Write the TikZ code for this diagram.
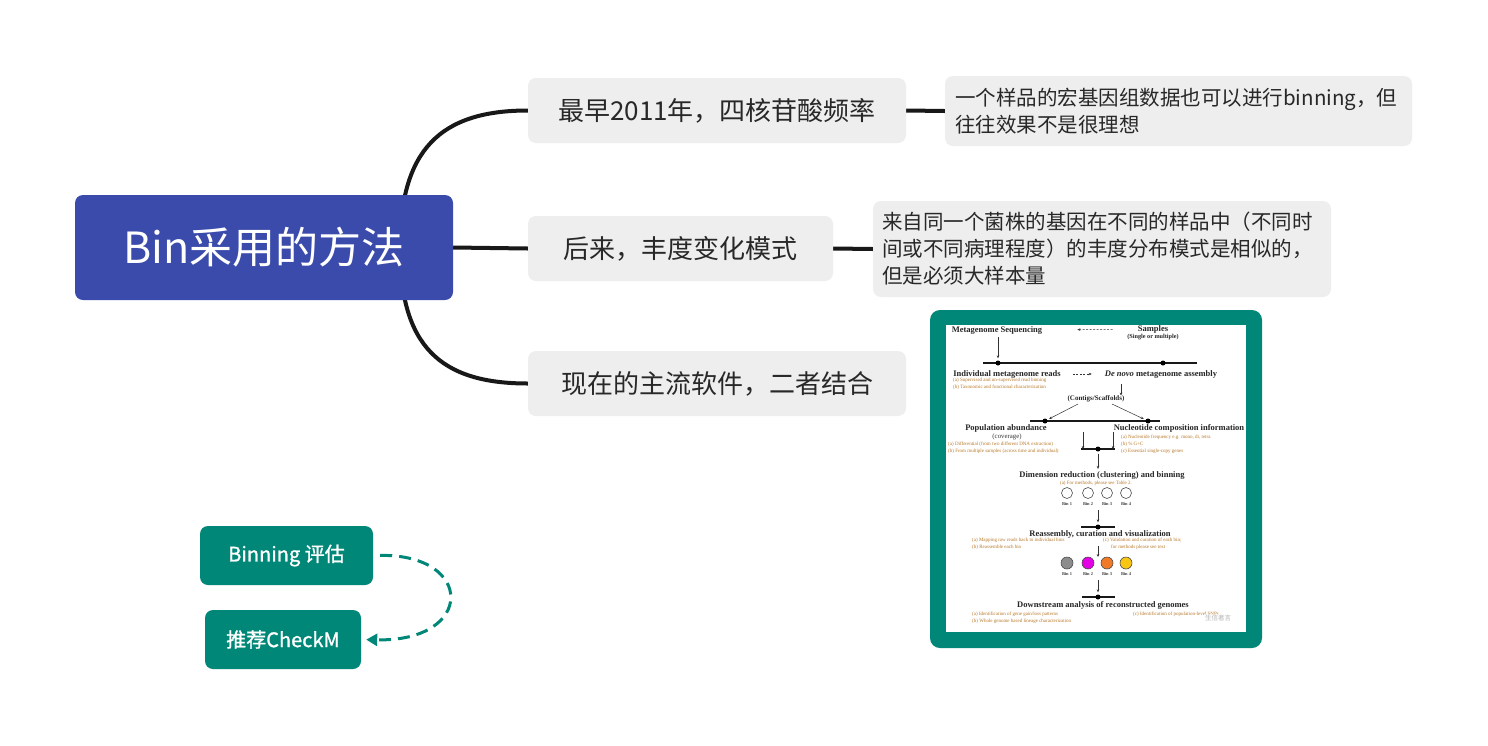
\documentclass[tikz,border=0pt]{standalone}
\usepackage{fontspec}
\setmainfont{Noto Sans CJK SC}
\newfontfamily\figfont{Liberation Serif}
\usetikzlibrary{arrows.meta}
\definecolor{rootblue}{RGB}{59,75,171}
\definecolor{boxgray}{RGB}{238,238,238}
\definecolor{mmteal}{RGB}{0,135,120}
\definecolor{txt}{RGB}{40,40,40}
\definecolor{orng}{RGB}{185,120,40}
\definecolor{conncol}{RGB}{24,24,24}
\definecolor{binmag}{RGB}{228,0,228}
\definecolor{binorg}{RGB}{240,122,40}
\definecolor{bingold}{RGB}{250,198,20}
\definecolor{bingray}{RGB}{140,140,140}
\pgfdeclarelayer{bg}
\pgfsetlayers{bg,main}
\tikzset{
  rootbox/.style={fill=rootblue, rounded corners=8pt, minimum width=378pt, minimum height=105pt, text=white, font=\fontsize{43}{50}\selectfont, inner sep=0pt},
  branchbox/.style={fill=boxgray, rounded corners=8pt, minimum height=65pt, text=txt, font=\fontsize{26}{30}\selectfont, inner sep=0pt},
  notebox/.style={fill=boxgray, rounded corners=8pt, inner sep=0pt},
  notetext/.style={text=txt, font=\fontsize{20.5}{27}\selectfont, align=left, inner sep=0pt, anchor=west},
  conn/.style={draw=conncol, line width=4pt},
  tealbox/.style={fill=mmteal, rounded corners=8pt, minimum height=59pt, text=white, font=\addfontfeatures{FakeBold=1.2}\fontsize{20}{24}\selectfont, inner sep=0pt},
  dasharrow/.style={draw=mmteal, line width=3pt, dash pattern=on 12pt off 7pt, -{Triangle[length=11pt,width=12pt]}},
  fb/.style={font=\figfont\bfseries\fontsize{8.5}{9}\selectfont, text=black!85, inner sep=0pt},
  fbs/.style={font=\figfont\bfseries\fontsize{6.2}{7}\selectfont, text=black!85, inner sep=0pt},
  fbc/.style={font=\figfont\bfseries\fontsize{7}{8}\selectfont, text=black!85, inner sep=0pt},
  fr/.style={font=\figfont\fontsize{6.8}{7}\selectfont, text=black!80, inner sep=0pt},
  fo/.style={font=\figfont\fontsize{5}{6.8}\selectfont, text=orng, inner sep=0pt, align=left},
  fbin/.style={font=\figfont\bfseries\fontsize{4.4}{5}\selectfont, text=black!75, inner sep=0pt},
  farr/.style={draw=black!80, line width=0.5pt, -{Stealth[length=3pt,width=2.6pt]}},
  fdash/.style={draw=black!80, line width=0.5pt, dash pattern=on 2pt off 1.5pt, -{Stealth[length=3pt,width=2.6pt]}},
  fbar/.style={draw=black!90, line width=2.2pt},
  fdot/.style={fill=black, circle, inner sep=0pt, minimum size=5pt},
  opencirc/.style={draw=black!70, line width=0.6pt, fill=white, circle, inner sep=0pt, minimum size=11pt},
  fillcirc/.style={draw=black!70, line width=0.6pt, circle, inner sep=0pt, minimum size=12pt},
}
\begin{document}
\begin{tikzpicture}[x=1pt,y=-1pt]
\useasboundingbox (0,0) rectangle (1488,745);

% mind map nodes
\node[rootbox] (root) at (264,247.5) {Bin采用的方法};
\node[branchbox, minimum width=378pt] (b1) at (717,110.5) {最早2011年，四核苷酸频率};
\node[branchbox, minimum width=305pt] (b2) at (680.5,248.5) {后来，丰度变化模式};
\node[branchbox, minimum width=378pt] (b3) at (717,383.5) {现在的主流软件，二者结合};

\node[notebox, minimum width=467pt, minimum height=70pt] (n1) at (1178.5,111) {};
\node[notetext] (n1t) at (955,111.5) {一个样品的宏基因组数据也可以进行binning，但\\往往效果不是很理想};
\node[notebox, minimum width=458pt, minimum height=96pt] (n2) at (1102,249) {};
\node[notetext] (n2t) at (882,249) {来自同一个菌株的基因在不同的样品中（不同时\\间或不同病理程度）的丰度分布模式是相似的，\\但是必须大样本量};

\coordinate (rc) at (400,248);
\begin{pgfonlayer}{bg}
\fill[white] (0,0) rectangle (1488,745);
\draw[conn] (rc) .. controls (400,150) and (440,110.5) .. (b1.west);
\draw[conn] (rc) .. controls (400,346) and (440,383.5) .. (b3.west);
\draw[conn] (root.east) -- (b2.west);
\draw[conn] (b1.east) -- (n1.west);
\draw[conn] (b2.east) -- (n2.west);
\end{pgfonlayer}

% evaluation boxes
\node[tealbox, minimum width=173pt] (bin) at (286.5,555.5) {Binning 评估};
\node[tealbox, minimum width=156pt] (chk) at (283,639.5) {推荐CheckM};
\draw[dasharrow, shorten <=7pt, shorten >=5pt] (bin.east) .. controls (475,554) and (475,642) .. (chk.east);

% embedded figure
\node[fill=mmteal, rounded corners=10pt, minimum width=332pt, minimum height=338pt, inner sep=0pt] (frame) at (1096,479) {};
\node[fill=white, minimum width=300pt, minimum height=307pt, inner sep=0pt] (inner) at (1096,478.5) {};

\node[fb] (ms) at (997,330) {Metagenome Sequencing};
\node[fb] (smp) at (1153,329) {Samples};
\node[fbs] (smp2) at (1153,337) {(Single or multiple)};
\draw[fdash, shorten <=25pt, shorten >=35pt] (smp.west) -- (ms.east);

\coordinate (b1l) at (983,363);
\coordinate (b1r) at (1197,363);
\draw[fbar] (b1l) -- (b1r);
\node[fdot] (d1) at (998,363) {};
\node[fdot] (d2) at (1163,363) {};
\draw[farr, shorten <=3pt, shorten >=2pt] (d1 |- ms.south) -- (d1.north);

\node[fb] (reads) at (1007,374) {Individual metagenome reads};
\node[fo, anchor=north west] (readso) at (953,378) {(a) Supervised and un-supervised read binning\\(b) Taxonomic and functional characterization};
\node[fb] (denovo) at (1161,374) {\textit{De novo} metagenome assembly};
\draw[fdash, shorten <=12pt, shorten >=13pt] (reads.east) -- (denovo.west);

\node[fbc] (contigs) at (1096,399) {(Contigs/Scaffolds)};
\coordinate (a3s) at (1121,384);
\draw[farr] (a3s) -- (a3s |- contigs.north);

\coordinate (b2l) at (1030,421);
\coordinate (b2r) at (1160,421);
\draw[fbar] (b2l) -- (b2r);
\node[fdot] (d3) at (1045,421) {};
\node[fdot] (d4) at (1148,421) {};
\coordinate (cl) at (1078,404);
\coordinate (cr) at (1112,404);
\draw[farr, shorten >=2pt] (cl) -- (d3);
\draw[farr, shorten >=2pt] (cr) -- (d4);

\node[fb] (pop) at (1006,428) {Population abundance};
\node[fr] (cov) at (1007,437) {(coverage)};
\node[fo, anchor=north west] (popo) at (948,442) {(a) Differential (from two different DNA extraction)\\(b) From multiple samples (across time and individual)};
\node[fb] (nuc) at (1179,428) {Nucleotide composition information};
\node[fo, anchor=north west] (nuco) at (1121,435) {(a) Nucleotide frequency e.g. mono, di, tetra\\(b) \% G+C\\(c) Essential single-copy genes};

\coordinate (b3l) at (1081,449);
\coordinate (b3r) at (1115,449);
\draw[fbar] (b3l) -- (b3r);
\node[fdot] (d5) at (1098,449) {};
\coordinate (a4) at (1083,432);
\coordinate (a5) at (1113,432);
\draw[farr] (a4) -- (a4 |- b3l);
\draw[farr] (a5) -- (a5 |- b3r);

\node[fb] (dim) at (1102,475) {Dimension reduction (clustering) and binning};
\draw[farr, shorten <=2pt, shorten >=2pt] (d5) -- (d5 |- dim.north);
\node[fo] (dimo) at (1096,483) {(a) For methods, please see Table 2.};

\node[opencirc] (o1) at (1067,493) {};
\node[opencirc] (o2) at (1088,493) {};
\node[opencirc] (o3) at (1107,493) {};
\node[opencirc] (o4) at (1126,493) {};
\node[fbin] (ol1) at (1067,504) {Bin 1};
\node[fbin] (ol2) at (1088,504) {Bin 2};
\node[fbin] (ol3) at (1107,504) {Bin 3};
\node[fbin] (ol4) at (1126,504) {Bin 4};

\coordinate (b4l) at (1081,527);
\coordinate (b4r) at (1115,527);
\draw[fbar] (b4l) -- (b4r);
\node[fdot] (d6) at (1098,527) {};
\coordinate (a6) at (1098,510);
\draw[farr, shorten >=2pt] (a6) -- (d6);

\node[fb, fill=white, inner ysep=0.5pt] (reas) at (1100,534) {Reassembly, curation and visualization};
\node[fo, anchor=north west] (reaso) at (972,538) {(a) Mapping raw reads back to individual bins\\(b) Reassemble each bin};
\node[fo, anchor=north west] (reaso2) at (1103,538) {(c) Validation and curation of each bin;\\\hspace*{8pt}for methods please see text};
\coordinate (a7) at (1098,546);
\draw[farr] (a7) -- (1098,557);

\node[fillcirc, fill=bingray] (f1) at (1067,563) {};
\node[fillcirc, fill=binmag] (f2) at (1088,563) {};
\node[fillcirc, fill=binorg] (f3) at (1107,563) {};
\node[fillcirc, fill=bingold] (f4) at (1126,563) {};
\node[fbin] (fl1) at (1067,574) {Bin 1};
\node[fbin] (fl2) at (1088,574) {Bin 2};
\node[fbin] (fl3) at (1107,574) {Bin 3};
\node[fbin] (fl4) at (1126,574) {Bin 4};

\coordinate (b5l) at (1082,597);
\coordinate (b5r) at (1115,597);
\draw[fbar] (b5l) -- (b5r);
\node[fdot] (d7) at (1098,597) {};
\coordinate (a8) at (1098,580);
\draw[farr, shorten >=2pt] (a8) -- (d7);

\node[fb] (down) at (1103,605) {Downstream analysis of reconstructed genomes};
\node[fo, anchor=north west] (downo) at (972,612) {(a) Identification of gene gain/loss patterns\\(b) Whole genome based lineage characterization};
\node[fo, anchor=north west] (downo2) at (1133,612) {(c) Identification of population-level SNPs};
\node[fill=white, fill opacity=0.6, text opacity=1, text=black!30, font=\fontsize{6.5}{7}\selectfont, inner sep=1pt] (wm) at (1218,618) {生信者言};
\end{tikzpicture}
\end{document}
